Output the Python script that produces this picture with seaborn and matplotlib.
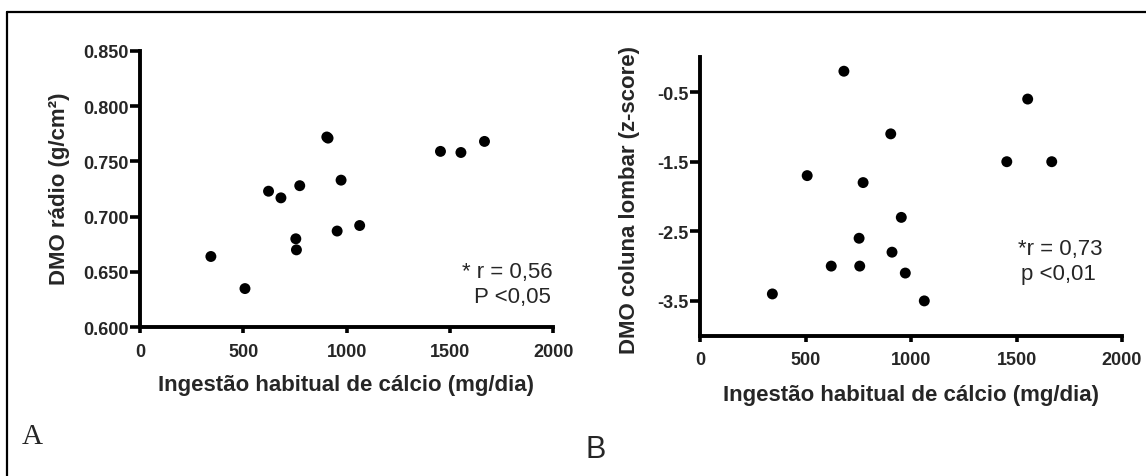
import matplotlib
matplotlib.use("Agg")
import matplotlib.pyplot as plt
from matplotlib.lines import Line2D
import seaborn as sns
import pandas as pd

# ---- data ----
calcium = [343, 508, 622, 682, 754, 757, 773, 904, 910, 954, 973, 1063, 1454, 1553, 1667]
dmo_radio = [0.664, 0.635, 0.723, 0.717, 0.680, 0.670, 0.728, 0.772, 0.771, 0.687, 0.733, 0.692, 0.759, 0.758, 0.768]
dmo_lombar = [-3.4, -1.7, -3.0, -0.2, -2.6, -3.0, -1.8, -1.1, -2.8, -2.3, -3.1, -3.5, -1.5, -0.6, -1.5]

x_ticks = [0, 500, 1000, 1500, 2000]
a_yticks = [0.600, 0.650, 0.700, 0.750, 0.800, 0.850]
b_yticks = [-0.5, -1.5, -2.5, -3.5]

x_label = "Ingestão habitual de cálcio (mg/dia)"
a_ylabel = "DMO rádio (g/cm²)"
b_ylabel = "DMO coluna lombar (z-score)"
a_note = ["* r = 0,56", "P <0,05"]
b_note = ["*r = 0,73", "p <0,01"]

df = pd.DataFrame({"calcium": calcium, "radio": dmo_radio, "lombar": dmo_lombar})

sns.set_theme(style="ticks")
plt.rcParams['font.family'] = ['Liberation Sans', 'DejaVu Sans']

W, H = 1146, 477
fig = plt.figure(figsize=(W / 100, H / 100), dpi=100)

def px_axes(left, top, right, bottom):
    return fig.add_axes([left / W, 1 - bottom / H, (right - left) / W, (bottom - top) / H])

def ftext(x, y, s, **kw):
    return fig.text(x / W, 1 - y / H, s, **kw)

axA = px_axes(140, 51.7, 553.3, 328.3)
axB = px_axes(700, 58.3, 1122, 336.7)

sns.scatterplot(data=df, x="calcium", y="radio", ax=axA, color="black", s=62,
                edgecolor="none", legend=False)
sns.scatterplot(data=df, x="calcium", y="lombar", ax=axB, color="black", s=62,
                edgecolor="none", legend=False)

tick_font = dict(fontsize=13, fontweight="bold")
for ax in (axA, axB):
    sns.despine(ax=ax)
    for side in ("left", "bottom"):
        ax.spines[side].set_linewidth(2.8)
        ax.spines[side].set_color("black")
        ax.spines[side].set_capstyle("projecting")
    ax.set_xlim(0, 2000)
    ax.set_xticks(x_ticks)
    ax.set_xticklabels([str(v) for v in x_ticks], **tick_font)
    ax.tick_params(axis="both", direction="out", width=2.6, color="black")
    ax.tick_params(axis="x", length=4.5, pad=6.5)
    ax.tick_params(axis="y", length=7, pad=1)
    ax.set_xlabel("")
    ax.set_ylabel("")
    ax.patch.set_alpha(0)

axA.set_ylim(0.600, 0.850)
axA.set_yticks(a_yticks)
axA.set_yticklabels([f"{v:.3f}" for v in a_yticks], **tick_font)

axB.set_ylim(-4.0, 0.0)
axB.set_yticks(b_yticks)
axB.set_yticklabels([f"{v:.1f}" for v in b_yticks], **tick_font)

label_font = dict(fontsize=16, fontweight="bold")
ftext(346, 391, x_label, ha="center", va="baseline", **label_font)
ftext(911, 401, x_label, ha="center", va="baseline", **label_font)
ftext(59, 189, a_ylabel, ha="center", va="center", rotation=90, **label_font)
ftext(629, 200, b_ylabel, ha="center", va="center", rotation=90, **label_font)

note_font = dict(fontsize=16)
ftext(553, 278, a_note[0], ha="right", va="baseline", **note_font)
ftext(551, 303, a_note[1], ha="right", va="baseline", **note_font)
ftext(1060, 255, b_note[0], ha="center", va="baseline", **note_font)
ftext(1058, 280, b_note[1], ha="center", va="baseline", **note_font)

ftext(32.5, 437, "A", ha="center", va="center", fontsize=21,
      family=["Liberation Serif", "DejaVu Serif"])
ftext(596, 450, "B", ha="center", va="center", fontsize=22)

# outer frame (top and left edges)
fig.add_artist(Line2D([7 / W, 1.0], [1 - 13 / H, 1 - 13 / H], color="black", lw=1.6,
                      transform=fig.transFigure))
fig.add_artist(Line2D([7 / W, 7 / W], [0.0, 1 - 13 / H], color="black", lw=1.6,
                      transform=fig.transFigure))

fig.savefig("out.png", dpi=100, facecolor="white")
